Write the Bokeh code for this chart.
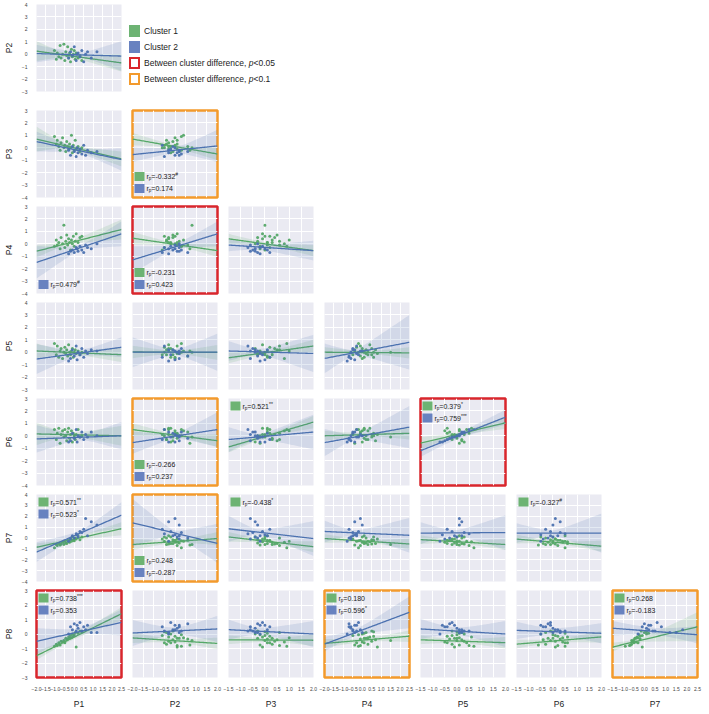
import numpy as np
from bokeh.plotting import figure
from bokeh.layouts import column, row
from bokeh.models import FixedTicker, Div
from bokeh.embed import file_html
from bokeh.resources import INLINE
from bokeh.core.properties import value

FONT = "Liberation Sans"

# ---------------- data ----------------
ROW_VARS = ["P2", "P3", "P4", "P5", "P6", "P7", "P8"]
COL_VARS = ["P1", "P2", "P3", "P4", "P5", "P6", "P7"]

X_LIMS = {"P1": (-2.0, 2.5), "P2": (-2.0, 2.0), "P3": (-1.5, 2.0), "P4": (-2.0, 2.5),
          "P5": (-1.5, 2.0), "P6": (-1.5, 2.0), "P7": (-1.5, 2.5)}
Y_LIMS = {"P2": (-3, 4), "P3": (-4, 3), "P4": (-4, 3), "P5": (-3, 4),
          "P6": (-4, 3), "P7": (-4, 4), "P8": (-3, 3)}

# Cluster 1 (green) subjects
g_P1 = [-1.05, -0.95, -0.90, -0.82, -0.75, -0.70, -0.62, -0.55, -0.50, -0.45, -0.40, -0.35,
        -0.30, -0.25, -0.20, -0.15, -0.10, -0.05, 0.00, 0.05, 0.10, 0.20, 0.30, 0.40]
g_P2 = [0.30, -0.40, 0.10, -0.20, 0.70, -0.30, 0.00, 0.80, -0.50, 0.20, -0.10, 0.60,
        -0.30, 0.10, -0.60, 0.40, -0.20, 0.00, 0.30, -0.40, 0.10, -0.30, -0.10, -0.50]
g_P3 = [0.90, 0.30, 0.60, 0.10, -0.20, 0.40, 0.80, 0.00, 0.20, -0.30, 0.50, 0.10,
        -0.10, 0.30, 0.00, 1.00, -0.40, 0.20, -0.20, 0.60, -0.10, 0.10, -0.30, 0.00]
g_P4 = [-0.20, 0.30, -0.10, 0.10, -0.40, 0.50, 0.00, 1.50, -0.30, 0.20, 0.70, -0.10,
        0.40, 0.10, -0.50, 0.30, 0.00, 0.60, -0.20, 0.20, 0.80, 0.10, 0.50, 0.60]
g_P5 = [0.70, -0.20, 0.50, -0.40, 0.10, 0.30, -0.50, 0.00, 0.40, -0.10, 0.20, -0.30,
        0.60, 0.00, -0.20, 0.10, 0.30, -0.40, 0.00, 0.20, -0.10, 0.10, -0.20, 0.00]
g_P6 = [0.50, -0.30, 0.20, 0.60, -0.60, 0.10, 0.40, -0.10, 0.50, 0.00, -0.40, 0.30,
        0.60, -0.20, 0.10, 0.40, -0.50, 0.20, 0.00, -0.30, 0.10, 0.50, -0.10, 0.00]
g_P7 = [-0.90, -0.60, -0.70, -0.50, -0.65, -0.55, -0.40, -0.60, -0.30, -0.45, -0.50, -0.20,
        -0.35, -0.40, -0.10, -0.30, 0.10, -0.20, -0.25, 0.00, -0.10, 0.20, -0.15, 0.10]
g_P8 = [-0.85, -0.70, -0.80, -0.60, -0.75, -0.50, -0.55, -0.45, -0.60, -0.30, -0.40, -0.35,
        -0.20, -0.30, -0.10, -0.25, 0.00, -0.15, -0.05, 0.10, -0.90, 0.05, 0.20, 0.15]

# Cluster 2 (blue) subjects
b_P1 = [-0.30, -0.20, -0.10, 0.00, 0.10, 0.15, 0.20, 0.30, 0.40, 0.50, 0.60, 0.70, 0.90, 1.20]
b_P2 = [-0.30, 0.20, -0.10, 0.60, -0.50, 0.00, 0.10, -0.20, 0.30, -0.60, 0.00, 0.20, -0.30, 0.20]
b_P3 = [-0.20, -0.60, 0.10, -0.30, -0.70, 0.00, -0.40, -0.10, -0.50, 0.20, -0.60, -0.20, -0.40, -0.30]
b_P4 = [-0.80, -0.60, -0.50, -0.70, -0.30, -0.40, -0.60, -0.20, -0.50, -0.70, -0.10, -0.30, -0.40, 0.00]
b_P5 = [-0.70, -0.50, 0.20, -0.30, 0.50, -0.60, 0.00, -0.20, 0.30, -0.40, 0.10, -0.10, 0.20, 0.10]
b_P6 = [-0.50, -0.40, 0.20, -0.20, 0.50, -0.50, 0.00, -0.10, 0.30, -0.30, 0.10, -0.10, 0.30, 0.00]
b_P7 = [-0.30, -0.10, 0.20, 0.00, 0.40, 0.30, 0.10, 0.60, 0.50, 0.80, 1.80, 0.20, 1.50, 1.20]
b_P8 = [0.00, 0.50, 0.30, 0.70, 0.20, 0.60, 0.40, 0.80, 0.20, 0.50, 0.30, 0.60, 0.10, 0.10]

GREEN = {"P1": g_P1, "P2": g_P2, "P3": g_P3, "P4": g_P4, "P5": g_P5, "P6": g_P6, "P7": g_P7, "P8": g_P8}
BLUE = {"P1": b_P1, "P2": b_P2, "P3": b_P3, "P4": b_P4, "P5": b_P5, "P6": b_P6, "P7": b_P7, "P8": b_P8}

# panels in reading order (row var, col var)
PANELS = [(r, c) for i, r in enumerate(ROW_VARS) for c in COL_VARS[:i + 1]]

# fitted lines: value at left / right x limit, CI half-width at left / right
G_LEFT = [0.25, 0.7, 0.7, -0.6, 0.45, 0.4, 0.1, 0.02, -0.45, 0.0, 0.15, 0.5, -0.9, 0.0,
          -0.6, -0.85, -0.6, 0.1, -0.05, -0.15, -0.1, -1.5, -0.27, -0.4, -0.65, -0.4, -0.7, -0.9]
G_RIGHT = [-0.7, -0.9, -0.5, 1.15, -0.55, -0.55, -0.2, -0.02, 0.5, -0.05, 0.0, -0.4, 1.1, 0.2,
           1.05, 0.85, -0.05, -0.8, -0.55, -0.6, -0.75, 1.4, -0.65, -0.43, -0.15, -0.6, -0.2, 0.5]
G_BAND_L = [0.8, 1.0, 0.5, 0.5, 0.5, 0.4, 0.6, 0.5, 0.45, 0.4, 0.9, 0.5, 0.45, 0.4,
            0.5, 0.35, 0.5, 0.45, 0.4, 0.4, 0.4, 0.3, 0.35, 0.3, 0.3, 0.3, 0.3, 0.3]
G_BAND_R = [0.7, 0.6, 0.5, 0.8, 0.5, 0.45, 0.6, 0.6, 0.5, 0.45, 0.8, 0.5, 0.5, 0.5,
            0.5, 0.6, 0.6, 0.5, 0.5, 0.5, 0.5, 0.45, 0.4, 0.4, 0.4, 0.4, 0.4, 1.0]
B_LEFT = [0.05, 0.5, -0.55, -1.5, -1.3, -0.1, -0.55, 0.0, 0.1, -0.5, -0.25, -0.55, -0.3, -0.55,
          -1.2, -1.3, 1.4, 0.85, 0.6, 0.45, 0.45, -0.5, 0.07, 0.3, -0.7, 0.35, 0.25, 0.4]
B_RIGHT = [-0.15, -0.95, 0.15, 0.8, 0.8, -0.55, 0.4, 0.0, -0.1, 0.8, 0.0, 0.5, 0.3, 0.7,
           1.5, 2.1, -0.5, -0.05, 0.25, 0.5, 0.45, 0.8, 0.35, 0.0, 1.5, 0.0, 0.05, -0.05]
B_BAND_L = [0.7, 0.8, 0.6, 1.3, 1.1, 0.5, 1.2, 1.2, 0.8, 1.2, 1.1, 0.9, 1.0, 1.1,
            0.5, 0.9, 2.2, 1.2, 1.0, 1.0, 0.9, 0.9, 0.9, 0.7, 0.5, 0.7, 0.6, 0.5]
B_BAND_R = [1.2, 0.9, 1.3, 1.0, 1.0, 0.8, 0.8, 1.5, 1.5, 2.2, 1.1, 1.4, 1.4, 1.7,
            0.6, 1.2, 1.8, 1.6, 1.6, 1.6, 1.8, 0.9, 0.9, 0.9, 1.1, 0.9, 0.7, 0.6]

# between-cluster difference boxes
RED_BOX = [("P4", "P2"), ("P6", "P5"), ("P8", "P1")]
ORANGE_BOX = [("P3", "P2"), ("P6", "P2"), ("P7", "P2"), ("P8", "P4"), ("P8", "P7")]

# correlation annotations: panel -> (place, green (value, mark), blue (value, mark))
ANNOT = {
    ("P3", "P2"): ("bottom", ("-0.332", "#"), ("0.174", "")),
    ("P4", "P1"): ("bottom", None, ("0.479", "#")),
    ("P4", "P2"): ("bottom", ("-0.231", ""), ("0.423", "")),
    ("P6", "P2"): ("bottom", ("-0.266", ""), ("0.237", "")),
    ("P6", "P3"): ("top", ("0.521", "**"), None),
    ("P6", "P5"): ("top", ("0.379", "*"), ("0.759", "***")),
    ("P7", "P1"): ("top", ("0.571", "**"), ("0.523", "*")),
    ("P7", "P2"): ("bottom", ("0.248", ""), ("-0.287", "")),
    ("P7", "P3"): ("top", ("-0.438", "*"), None),
    ("P7", "P6"): ("top", ("-0.327", "#"), None),
    ("P8", "P1"): ("top", ("0.738", "***"), ("0.353", "")),
    ("P8", "P4"): ("top", ("0.180", ""), ("0.596", "*")),
    ("P8", "P7"): ("top", ("0.268", ""), ("-0.183", "")),
}

# ---------------- styling ----------------
C_GREEN = "#55A868"
C_BLUE = "#4C72B0"
SQ_GREEN = "#6DB373"
SQ_BLUE = "#6882C0"
C_RED = "#D9262C"
C_ORANGE = "#F39A2C"
BG = "#EAEAF2"
FW, FH = 85, 87

ARIAL_W = {'0': .556, '1': .556, '2': .556, '3': .556, '4': .556, '5': .556, '6': .556,
           '7': .556, '8': .556, '9': .556, '.': .278, '-': .333, '=': .584}


def text_w(s, size):
    return sum(ARIAL_W.get(ch, .556) for ch in s) * size


def band(xmin, xmax, yl, yr, bl, br, xc, h0):
    xs = np.linspace(xmin, xmax, 80)
    yline = yl + (yr - yl) * (xs - xmin) / (xmax - xmin)
    xc = min(max(xc, xmin + 0.2), xmax - 0.2)
    h0 = min(h0, 0.9 * bl, 0.9 * br)
    kl = np.sqrt(bl ** 2 - h0 ** 2) / (xc - xmin)
    kr = np.sqrt(br ** 2 - h0 ** 2) / (xmax - xc)
    k = np.where(xs < xc, kl, kr)
    hw = np.sqrt(h0 ** 2 + (k * (xs - xc)) ** 2)
    return xs, yline, yline - hw, yline + hw


def ticks_x(xmin, xmax):
    n = int(round((xmax - xmin) / 0.5))
    return [round(xmin + 0.5 * i, 2) for i in range(n + 1)]


def fmt(v, dec):
    s = f"{v:.{dec}f}"
    return s.replace("-", "\u2212")


def make_panel(idx, rv, cv, left, bottom):
    xmin, xmax = X_LIMS[cv]
    ymin, ymax = Y_LIMS[rv]
    xt = ticks_x(xmin, xmax)
    yt = list(range(ymin, ymax + 1))
    p = figure(frame_width=FW, frame_height=FH, x_range=(xmin, xmax), y_range=(ymin, ymax),
               output_backend="svg", toolbar_location=None,
               x_axis_location="below" if bottom else None,
               y_axis_location="left" if left else None,
               min_border_left=0 if left else 5, min_border_right=6,
               min_border_top=4, min_border_bottom=0 if bottom else 5,
               background_fill_color=BG, border_fill_color="white")
    p.outline_line_color = None
    for g in p.xgrid:
        g.ticker = FixedTicker(ticks=xt)
    for g in p.ygrid:
        g.ticker = FixedTicker(ticks=yt)
    p.grid.grid_line_color = "white"
    p.grid.grid_line_width = 1
    if left:
        ax = p.yaxis[0]
        ax.ticker = FixedTicker(ticks=yt)
        ax.major_label_overrides = {t: fmt(t, 0) for t in yt}
        ax.axis_label = rv
    if bottom:
        ax = p.xaxis[0]
        ax.ticker = FixedTicker(ticks=xt)
        ax.major_label_overrides = {t: fmt(t, 1) for t in xt}
        ax.axis_label = cv
    for ax in list(p.xaxis) + list(p.yaxis):
        ax.axis_line_color = None
        ax.major_tick_line_color = None
        ax.minor_tick_line_color = None
        ax.major_label_text_font = FONT
        ax.major_label_text_font_size = "5px"
        ax.major_label_text_color = "#444444"
        ax.major_label_standoff = 3
        ax.axis_label_text_font = FONT
        ax.axis_label_text_font_size = "8.5px"
        ax.axis_label_text_font_style = "normal"
        ax.axis_label_text_color = "#222222"
        ax.axis_label_standoff = 5

    # clusters: scatter, regression line, CI band
    specs = [(GREEN, C_GREEN, G_LEFT, G_RIGHT, G_BAND_L, G_BAND_R, 0.13),
             (BLUE, C_BLUE, B_LEFT, B_RIGHT, B_BAND_L, B_BAND_R, 0.25)]
    for data, col, yl, yr, bl, br, h0 in specs:
        xs_pts, ys_pts = data[cv], data[rv]
        p.scatter(xs_pts, ys_pts, size=3.0, fill_color=col, line_color=None, fill_alpha=0.95)
        xs, yline, lo, hi = band(xmin, xmax, yl[idx], yr[idx], bl[idx], br[idx],
                                 float(np.mean(xs_pts)), h0)
        p.varea(x=xs, y1=lo, y2=hi, fill_color=col, fill_alpha=0.15)
        p.line(xs, yline, line_color=col, line_width=1.3)

    # boxes
    if (rv, cv) in RED_BOX:
        p.outline_line_color = C_RED
        p.outline_line_width = 2.5
    elif (rv, cv) in ORANGE_BOX:
        p.outline_line_color = C_ORANGE
        p.outline_line_width = 2.5

    # annotations
    if (rv, cv) in ANNOT:
        place, gtxt, btxt = ANNOT[(rv, cv)]
        sxu = (xmax - xmin) / FW
        syu = (ymax - ymin) / FH

        def X(px):
            return xmin + px * sxu

        def Y(py):
            return ymax - py * syu

        if place == "top":
            centers = [7.5, 19.5]
        else:
            centers = [FH - 21.0, FH - 9.0]
        items = [(gtxt, SQ_GREEN, centers[0]), (btxt, SQ_BLUE, centers[1])]
        fs = 7.0
        for item, sqc, cy in items:
            if item is None:
                continue
            val, mark = item
            p.rect(x=[X(7.0)], y=[Y(cy)], width=10, height=9, width_units="screen",
                   height_units="screen", fill_color=sqc, line_color=None)
            tx = 14.0
            p.text(x=[X(tx)], y=[Y(cy)], text=["r"], text_font=value(FONT),
                   text_font_size=f"{fs}px", text_baseline="middle", text_align="left",
                   text_color="#222222")
            p.text(x=[X(tx + 0.333 * fs)], y=[Y(cy + 2.0)], text=["p"], text_font=value(FONT),
                   text_font_size="4.5px", text_baseline="middle", text_align="left",
                   text_color="#222222")
            ex = tx + 0.333 * fs + 0.556 * 4.5
            eq = "=" + val
            p.text(x=[X(ex)], y=[Y(cy)], text=[eq], text_font=value(FONT),
                   text_font_size=f"{fs}px", text_baseline="middle", text_align="left",
                   text_color="#222222")
            if mark:
                mx = ex + text_w(eq, fs)
                p.text(x=[X(mx)], y=[Y(cy - 2.5)], text=[mark], text_font=value(FONT),
                       text_font_size="5px", text_baseline="middle", text_align="left",
                       text_color="#222222")
    return p


legend_html = f"""
<div style="font-family:'{FONT}',Arial,sans-serif;font-size:8.5px;color:#222;padding-top:20px;margin-left:-3px;line-height:12px;">
  <div style="display:flex;align-items:center;height:12px;margin-bottom:4px;">
    <span style="display:inline-block;width:11px;height:12px;background:{SQ_GREEN};margin-right:4px;"></span>Cluster 1</div>
  <div style="display:flex;align-items:center;height:12px;margin-bottom:4px;">
    <span style="display:inline-block;width:11px;height:12px;background:{SQ_BLUE};margin-right:4px;"></span>Cluster 2</div>
  <div style="display:flex;align-items:center;height:12px;margin-bottom:4px;">
    <span style="display:inline-block;box-sizing:border-box;width:11px;height:12px;border:2px solid {C_RED};background:#fff;margin-right:4px;"></span>Between cluster difference,&nbsp;<i>p</i>&lt;0.05</div>
  <div style="display:flex;align-items:center;height:12px;">
    <span style="display:inline-block;box-sizing:border-box;width:11px;height:12px;border:2px solid {C_ORANGE};background:#fff;margin-right:4px;"></span>Between cluster difference,&nbsp;<i>p</i>&lt;0.1</div>
</div>
"""

rows = []
idx = 0
for ri, rv in enumerate(ROW_VARS):
    figs = []
    for ci, cv in enumerate(COL_VARS[:ri + 1]):
        figs.append(make_panel(idx, rv, cv, ci == 0, ri == len(ROW_VARS) - 1))
        idx += 1
    if ri == 0:
        figs.append(Div(text=legend_html, width=300, height=96))
    rows.append(row(*figs, spacing=0))

layout = column(*rows, spacing=0)

with open("out.html", "w") as f:
    f.write(file_html(layout, INLINE, "Cluster correlations"))
